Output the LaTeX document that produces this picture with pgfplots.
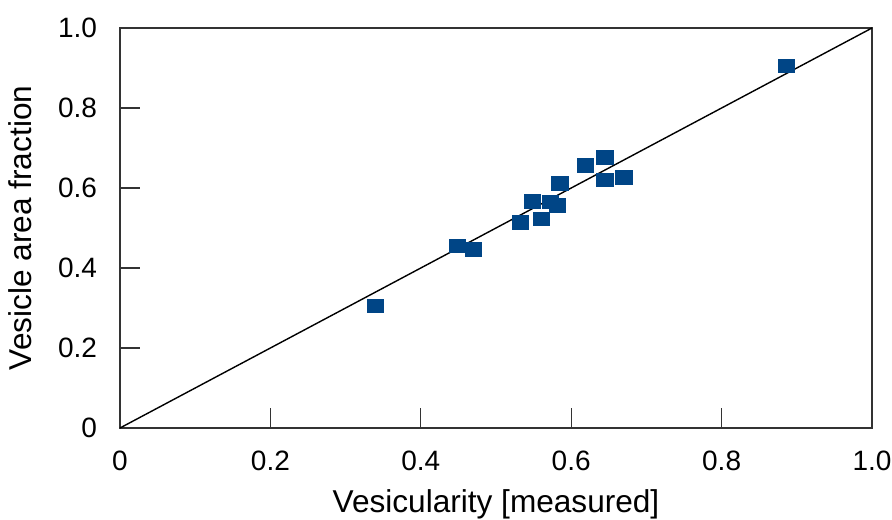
\documentclass[border=0pt]{standalone}
\usepackage{pgfplots}
\pgfplotsset{compat=1.18}
\usepackage{fontspec}
\setmainfont{Liberation Sans}
\definecolor{lblue}{HTML}{004586}
\begin{document}
\begin{tikzpicture}
\useasboundingbox (-60pt,-45.5pt) rectangle (386pt,214pt);
\begin{axis}[
  scale only axis,
  width=376pt, height=200pt,
  xmin=0, xmax=1, ymin=0, ymax=1,
  axis line style={black!80, line width=0.6pt},
  tick style={black!80, line width=0.6pt},
  tick align=inside,
  xtick pos=left, ytick pos=left,
  major tick length=10pt,
  xtick={0,0.2,0.4,0.6,0.8,1},
  ytick={0,0.2,0.4,0.6,0.8,1},
  xticklabels={0,0.2,0.4,0.6,0.8,1.0},
  yticklabels={0,0.2,0.4,0.6,0.8,1.0},
  xticklabel style={yshift=-8pt, font=\fontsize{14}{16}\selectfont},
  yticklabel style={xshift=-8pt, font=\fontsize{14}{16}\selectfont},
  label style={font=\fontsize{15.8}{18}\selectfont},
  xlabel={Vesicularity [measured]},
  ylabel={Vesicle area fraction},
  xlabel style={yshift=-2.5pt},
  ylabel style={yshift=6pt},
  clip=false,
]
\addplot[black, line width=0.7pt] coordinates {(0,0) (1,1)};
\addplot[only marks, mark=square*, mark size=3.4pt, mark options={xscale=1.2, fill=lblue, draw=lblue}] coordinates {
(0.340,0.305)
(0.449,0.455)
(0.470,0.447)
(0.532,0.514)
(0.548,0.567)
(0.560,0.523)
(0.572,0.565)
(0.582,0.557)
(0.585,0.612)
(0.619,0.657)
(0.645,0.677)
(0.645,0.620)
(0.670,0.627)
(0.886,0.905)
};
\end{axis}
\end{tikzpicture}
\end{document}
